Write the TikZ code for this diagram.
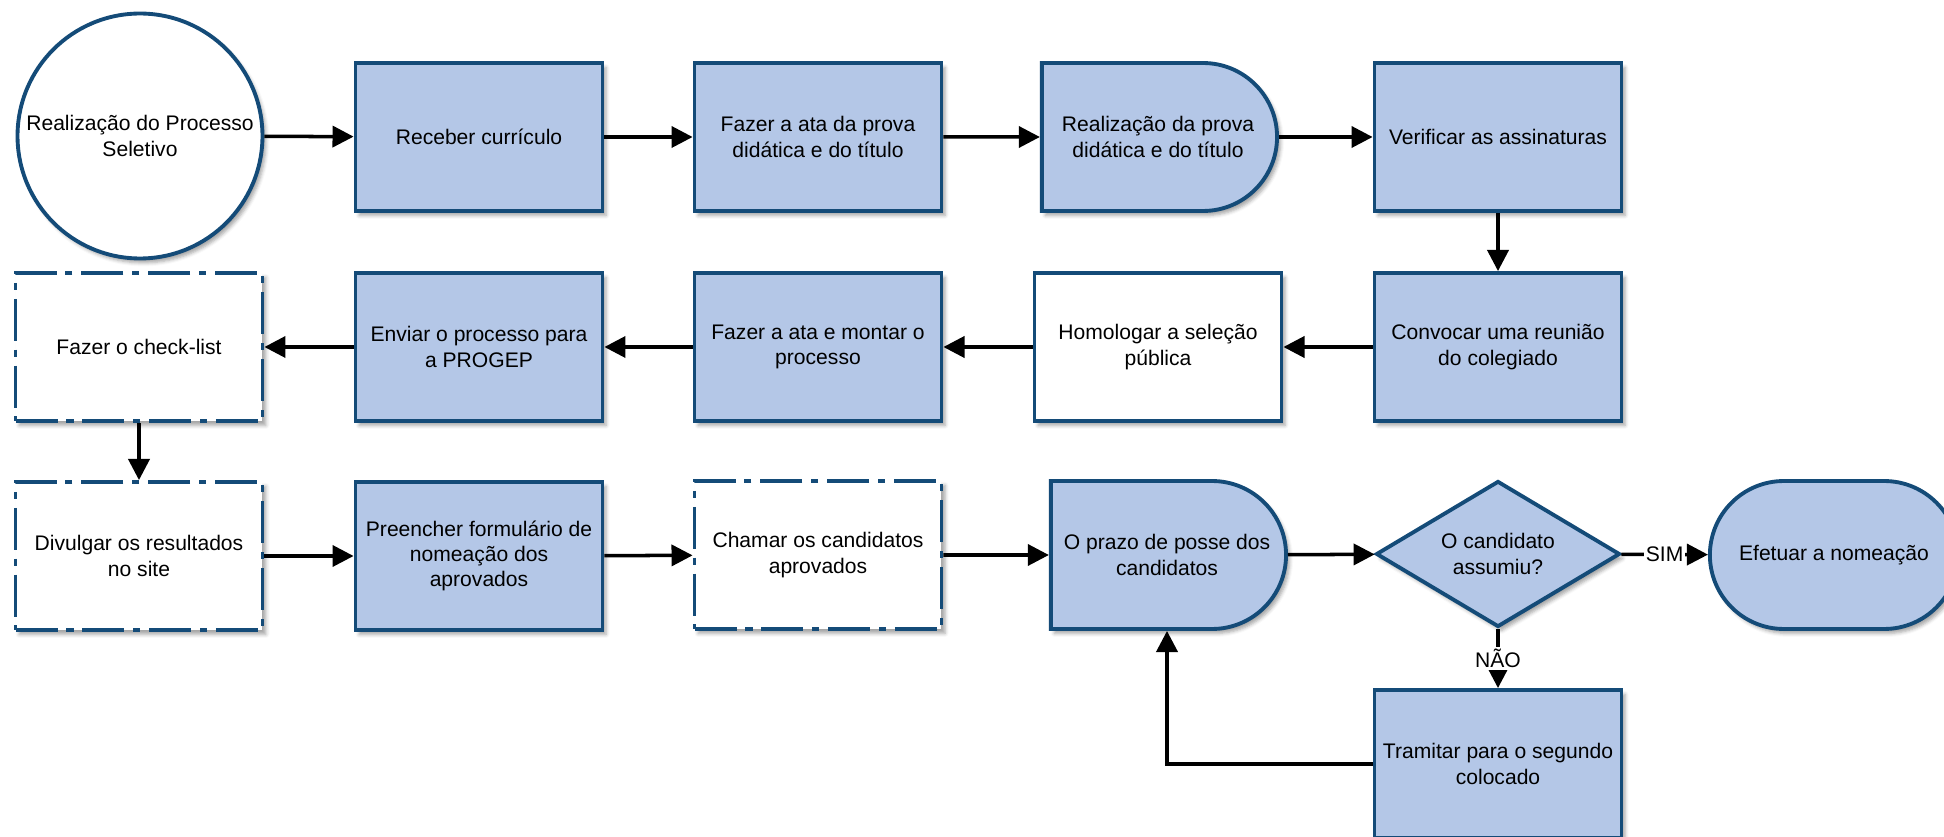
\documentclass[tikz,border=0pt]{standalone}
\usepackage{fontspec}
\setmainfont{Liberation Sans}
\usepackage{tikz}
\usetikzlibrary{arrows.meta}
\usetikzlibrary{shapes.geometric, shapes.misc}
\usetikzlibrary{shadows.blur}

\definecolor{flowline}{RGB}{20,75,120}
\definecolor{flowfill}{RGB}{180,199,231}

\tikzset{
  procbox/.style={rectangle, draw=flowline, line width=2.2pt, fill=flowfill,
    minimum width=4.94cm, minimum height=2.96cm, align=center,
    font=\fontsize{12}{14.4}\selectfont,
    blur shadow={shadow xshift=2pt, shadow yshift=-2.5pt, shadow blur radius=2pt, shadow opacity=35}},
  plainbox/.style={procbox, fill=white},
  dashbox/.style={plainbox, dash pattern=on 24pt off 5pt on 4pt off 5pt},
  delaybox/.style={procbox, rounded rectangle, rounded rectangle left arc=none},
  termbox/.style={procbox, rounded rectangle, minimum width=5.2cm},
  startbox/.style={procbox, circle, fill=white, minimum size=4.9cm},
  decisionbox/.style={procbox, diamond, aspect=1.67, inner sep=0pt,
    minimum width=4.88cm, minimum height=2.92cm},
  flow/.style={-{Triangle[length=12pt, width=12pt]}, line width=2pt},
  answer/.style={fill=white, inner sep=1pt, font=\fontsize{12}{14.4}\selectfont}
}

\begin{document}
\begin{tikzpicture}[x=0.02cm, y=-0.02cm]

  \useasboundingbox (0, 0) rectangle (1944, 837);

  % first row
  \node at (140, 136) (inicio) [startbox] {Realização do Processo\\Seletivo};
  \node at (479, 137) (receber) [procbox] {Receber currículo};
  \node at (818, 137) (ataprova) [procbox] {Fazer a ata da prova\\didática e do título};
  \node at (1158, 137) (prova) [delaybox] {Realização da prova\\didática e do título};
  \node at (1498, 137) (verificar) [procbox] {Verificar as assinaturas};

  % second row
  \node at (1498, 347) (convocar) [procbox] {Convocar uma reunião\\do colegiado};
  \node at (1158, 347) (homologar) [plainbox] {Homologar a seleção\\pública};
  \node at (818, 347) (ataprocesso) [procbox] {Fazer a ata e montar o\\processo};
  \node at (479, 347) (enviar) [procbox] {Enviar o processo para\\a PROGEP};
  \node at (139, 347) (checklist) [dashbox] {Fazer o check-list};

  % third row
  \node at (139, 556) (divulgar) [dashbox] {Divulgar os resultados\\no site};
  \node at (479, 556) (preencher) [procbox] {Preencher formulário de\\nomeação dos\\aprovados};
  \node at (818, 555) (chamar) [dashbox] {Chamar os candidatos\\aprovados};
  \node at (1167, 555) (prazo) [delaybox] {O prazo de posse dos\\candidatos};
  \node at (1498, 554) (decisao) [decisionbox] {O candidato\\assumiu?};
  \node at (1834, 555) (efetuar) [termbox] {Efetuar a nomeação};

  % fourth row
  \node at (1498, 764) (tramitar) [procbox] {Tramitar para o segundo\\colocado};

  % connectors
  \draw [flow] (inicio) -- (receber);
  \draw [flow] (receber) -- (ataprova);
  \draw [flow] (ataprova) -- (prova);
  \draw [flow] (prova) -- (verificar);
  \draw [flow] (verificar) -- (convocar);
  \draw [flow] (convocar) -- (homologar);
  \draw [flow] (homologar) -- (ataprocesso);
  \draw [flow] (ataprocesso) -- (enviar);
  \draw [flow] (enviar) -- (checklist);
  \draw [flow] (checklist) -- (divulgar);
  \draw [flow] (divulgar) -- (preencher);
  \draw [flow] (preencher) -- (chamar);
  \draw [flow] (chamar) -- (prazo);
  \draw [flow] (prazo) -- (decisao);
  \draw [flow] (decisao) -- node [answer] {SIM} (efetuar);
  \draw [flow] (decisao) -- node [answer] {NÃO} (tramitar);
  \draw [flow] (tramitar.west) -| (prazo.south);

\end{tikzpicture}
\end{document}
